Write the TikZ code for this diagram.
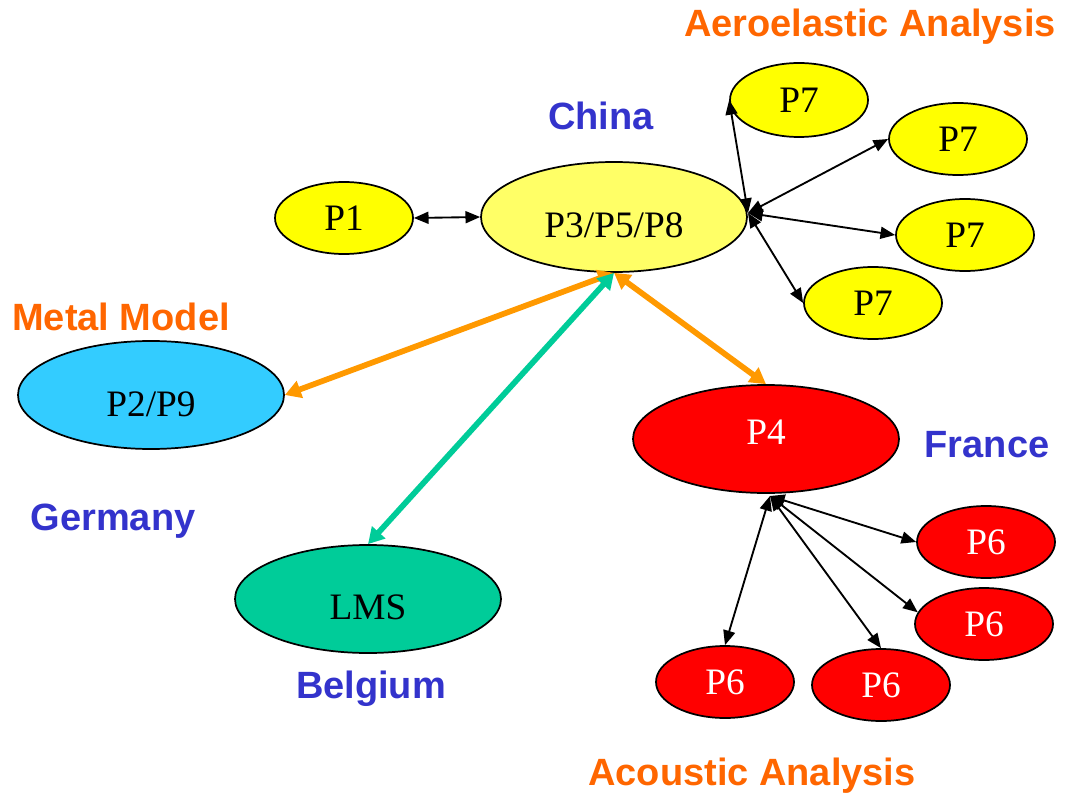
\documentclass[tikz,border=0pt]{standalone}
\usepackage{fontspec}
\setmainfont{Liberation Serif}
\newfontfamily\lblfont{Liberation Sans}
\usetikzlibrary{shapes.geometric,arrows.meta}
\definecolor{yelA}{HTML}{FFFF00}
\definecolor{yelB}{HTML}{FFFF66}
\definecolor{skyB}{HTML}{33CCFF}
\definecolor{tealG}{HTML}{00CC99}
\definecolor{redN}{HTML}{FF0000}
\definecolor{orA}{HTML}{FF9900}
\definecolor{orT}{HTML}{FF6600}
\definecolor{blT}{HTML}{3333CC}
\tikzset{
  ell/.style={ellipse, draw=black, line width=1.3pt, inner sep=0pt, text height=18.6pt, text depth=0pt, font=\fontsize{28}{30}\selectfont},
  small/.style={ell, minimum width=103.5pt, minimum height=54pt},
  big/.style={ell, minimum width=199.5pt, minimum height=81pt},
  lower/.style={text height=#1},
  lbl/.style={font=\lblfont\bfseries\fontsize{28.5}{30}\selectfont, inner sep=0pt, anchor=base},
  blk/.style={draw=black, line width=1.4pt, {Triangle[length=11pt,width=9pt]}-{Triangle[length=11pt,width=9pt]}},
  fat/.style={line width=4.3pt, {Triangle[length=12pt,width=13pt]}-{Triangle[length=12pt,width=13pt]}}
}
\begin{document}
\begin{tikzpicture}[x=0.75pt,y=-0.75pt]
\useasboundingbox (0,0) rectangle (1066,798);
% nodes
\node[small, fill=yelA] (p1) at (344,218) {P1};
\node[big, fill=yelB, minimum height=82.5pt, lower=30.6pt] (p358) at (614,217) {P3/P5/P8};
\node[small, fill=yelA, minimum height=55.5pt] (p7a) at (799,100) {P7};
\node[small, fill=yelA] (p7b) at (958,139) {P7};
\node[small, fill=yelA] (p7c) at (965,235) {P7};
\node[small, fill=yelA] (p7d) at (873,303) {P7};
\node[big, fill=skyB, lower=32.1pt] (p29) at (151,395) {P2/P9};
\node[big, fill=redN, text=white, lower=8.1pt] (p4) at (766,439) {P4};
\node[big, fill=tealG, lower=30.6pt] (lms) at (368,599) {LMS};
\node[small, fill=redN, text=white] (p6a) at (986,542) {P6};
\node[small, fill=redN, text=white] (p6b) at (984,624) {P6};
\node[small, fill=redN, text=white] (p6c) at (725,682) {P6};
\node[small, fill=redN, text=white] (p6d) at (881,685) {P6};
% labels
\node[lbl, text=orT] (aero) at (870,37) {Aeroelastic Analysis};
\node[lbl, text=blT] (china) at (601,130) {China};
\node[lbl, text=orT] (metal) at (121,330) {Metal Model};
\node[lbl, text=blT] (germ) at (113,530) {Germany};
\node[lbl, text=blT] (fra) at (987,457) {France};
\node[lbl, text=blT] (belg) at (371,698) {Belgium};
\node[lbl, text=orT] (acou) at (752,785) {Acoustic Analysis};
% hubs
\coordinate (hc) at (748,213);
\coordinate (hf) at (770,496);
% connectors
\draw[blk] (p1.east) -- (p358.west);
\draw[blk] (hc) -- (p7a.west);
\draw[blk] (hc) -- (p7b.west);
\draw[blk] (hc) -- (p7c.west);
\draw[blk] (hc) -- (p7d.west);
\draw[blk] (hf) -- (p6a.west);
\draw[blk] (hf) -- (p6b.170);
\draw[blk] (hf) -- (p6c.north);
\draw[blk] (hf) -- (p6d.north);
\draw[fat, orA] (p358.south) -- (p29.east);
\draw[fat, orA] (p358.south) -- (p4.north);
\draw[fat, tealG] (p358.south) -- (lms.north);
\end{tikzpicture}
\end{document}
